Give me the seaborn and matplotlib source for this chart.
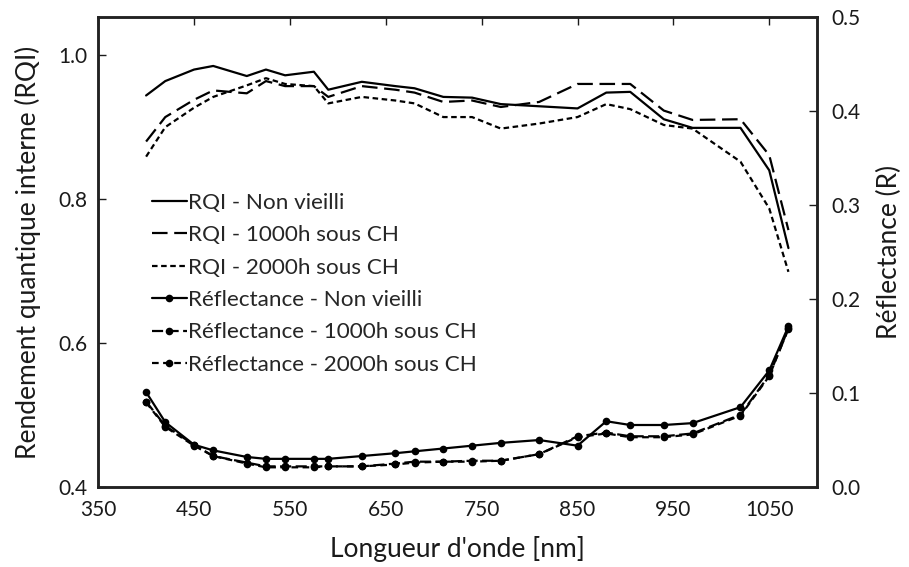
import matplotlib
matplotlib.use('Agg')
import matplotlib.pyplot as plt
import seaborn as sns
import numpy as np

# Wavelengths (nm)
wavelength = [400, 420, 450, 470, 505, 525, 545, 575, 590, 625, 660, 680,
              710, 740, 770, 810, 850, 880, 905, 940, 970, 1020, 1050, 1070]

# Internal quantum efficiency (left axis)
rqi_new = [0.944, 0.964, 0.980, 0.985, 0.971, 0.980, 0.972, 0.977, 0.952, 0.963, 0.957, 0.954,
           0.942, 0.941, 0.932, 0.929, 0.926, 0.948, 0.949, 0.911, 0.899, 0.899, 0.840, 0.732]
rqi_1000h = [0.880, 0.914, 0.938, 0.951, 0.947, 0.964, 0.957, 0.957, 0.942, 0.957, 0.952, 0.948,
             0.935, 0.937, 0.928, 0.935, 0.960, 0.960, 0.960, 0.923, 0.910, 0.911, 0.861, 0.757]
rqi_2000h = [0.859, 0.900, 0.927, 0.942, 0.958, 0.968, 0.960, 0.957, 0.933, 0.942, 0.937, 0.933,
             0.914, 0.914, 0.898, 0.905, 0.914, 0.932, 0.925, 0.903, 0.898, 0.852, 0.787, 0.699]

# Reflectance (right axis)
refl_new = [0.101, 0.069, 0.045, 0.039, 0.032, 0.030, 0.030, 0.030, 0.030, 0.033, 0.036, 0.038,
            0.041, 0.044, 0.047, 0.050, 0.044, 0.070, 0.066, 0.066, 0.068, 0.085, 0.124, 0.171]
refl_1000h = [0.091, 0.065, 0.045, 0.033, 0.026, 0.022, 0.022, 0.022, 0.022, 0.022, 0.025, 0.027,
              0.027, 0.028, 0.028, 0.035, 0.054, 0.058, 0.054, 0.054, 0.057, 0.077, 0.119, 0.168]
refl_2000h = [0.090, 0.064, 0.044, 0.033, 0.025, 0.021, 0.021, 0.021, 0.022, 0.022, 0.024, 0.026,
              0.027, 0.027, 0.028, 0.035, 0.053, 0.057, 0.053, 0.053, 0.056, 0.076, 0.118, 0.169]

sns.set_style('white')
plt.rcParams['font.family'] = ['Lato', 'DejaVu Sans']

fig, ax = plt.subplots(figsize=(9.09, 5.67), dpi=100)
fig.subplots_adjust(left=0.108, right=0.899, bottom=0.141, top=0.970)
ax2 = ax.twinx()

long_dash = (0, (7, 3))
short_dash = (0, (2.5, 1.6))

sns.lineplot(x=wavelength, y=rqi_new, ax=ax, color='black', linewidth=1.6,
             linestyle='-', label='RQI - Non vieilli', legend=False)
sns.lineplot(x=wavelength, y=rqi_1000h, ax=ax, color='black', linewidth=1.6,
             linestyle=long_dash, label='RQI - 1000h sous CH', legend=False)
sns.lineplot(x=wavelength, y=rqi_2000h, ax=ax, color='black', linewidth=1.6,
             linestyle=short_dash, label='RQI - 2000h sous CH', legend=False)

sns.lineplot(x=wavelength, y=refl_new, ax=ax2, color='black', linewidth=1.6,
             linestyle='-', marker='o', markersize=5.5, markeredgewidth=0,
             label='Réflectance - Non vieilli', legend=False)
sns.lineplot(x=wavelength, y=refl_1000h, ax=ax2, color='black', linewidth=1.6,
             linestyle=(0, (5, 2)), marker='o', markersize=5.5, markeredgewidth=0,
             label='Réflectance - 1000h sous CH', legend=False)
sns.lineplot(x=wavelength, y=refl_2000h, ax=ax2, color='black', linewidth=1.6,
             linestyle=(0, (3, 2)), marker='o', markersize=5.5, markeredgewidth=0,
             label='Réflectance - 2000h sous CH', legend=False)

ax.set_xlim(350, 1100)
ax.set_xticks(np.arange(350, 1051, 100))
ax.set_ylim(0.4, 1.053)
ax.set_yticks([0.4, 0.6, 0.8, 1.0])
ax.set_yticklabels(['0.4', '0.6', '0.8', '1.0'])
ax2.set_ylim(0.0, 0.5)
ax2.set_yticks([0.0, 0.1, 0.2, 0.3, 0.4, 0.5])
ax2.set_yticklabels(['0.0', '0.1', '0.2', '0.3', '0.4', '0.5'])

ax.set_xlabel("Longueur d'onde [nm]", fontsize=19, color='#1a1a1a', labelpad=12)
ax.set_ylabel('Rendement quantique interne (RQI)', fontsize=19, color='#1a1a1a', labelpad=12)
ax2.set_ylabel('Réflectance (R)', fontsize=19, color='#1a1a1a', labelpad=12)

ax.tick_params(axis='both', direction='in', length=6, width=1, labelsize=15,
               colors='#1a1a1a', top=True)
ax.tick_params(axis='x', pad=9)
ax.tick_params(axis='y', pad=8)
ax2.tick_params(axis='y', direction='in', length=6, width=1, labelsize=15,
                colors='#1a1a1a', pad=10)
for a in (ax, ax2):
    for s in a.spines.values():
        s.set_linewidth(1.8)
        s.set_color('#222222')

h1, l1 = ax.get_legend_handles_labels()
h2, l2 = ax2.get_legend_handles_labels()
ax2.legend(h1 + h2, l1 + l2, loc='upper left', bbox_to_anchor=(0.062, 0.645),
           frameon=False, fontsize=16.2, handlelength=1.55, handletextpad=0.05,
           labelspacing=0.55, borderaxespad=0)

plt.savefig('out.png', dpi=100)
